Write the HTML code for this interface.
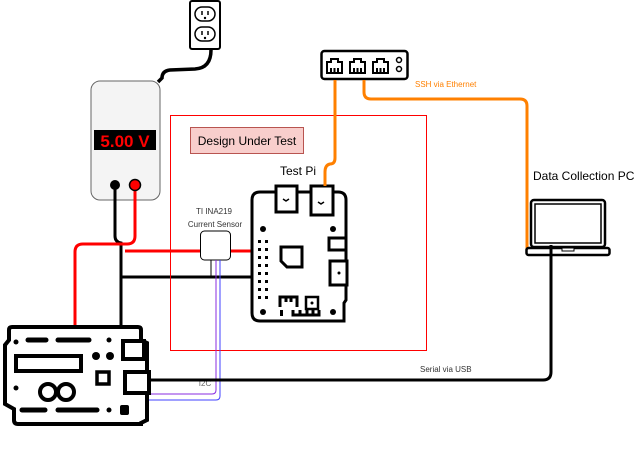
<!DOCTYPE html>
<html><head><meta charset="utf-8"><style>
html,body{margin:0;padding:0;background:#fff;}
svg{display:block;font-family:"Liberation Sans",Arial,sans-serif;}
</style></head><body>
<svg width="641" height="451" viewBox="0 0 641 451" xmlns="http://www.w3.org/2000/svg">
<!-- outlet -->
<rect x="190" y="1" width="30" height="48" rx="2" fill="#fff" stroke="#000" stroke-width="2"/>
<rect x="195" y="7" width="20" height="14" rx="7" fill="#fff" stroke="#000" stroke-width="1.5"/>
<rect x="195" y="27" width="20" height="14" rx="7" fill="#fff" stroke="#000" stroke-width="1.5"/>
<line x1="202" y1="11" x2="202" y2="15" stroke="#000" stroke-width="1.5"/><line x1="208" y1="11" x2="208" y2="15" stroke="#000" stroke-width="1.5"/><circle cx="205" cy="18" r="1.2"/>
<line x1="202" y1="31" x2="202" y2="35" stroke="#000" stroke-width="1.5"/><line x1="208" y1="31" x2="208" y2="35" stroke="#000" stroke-width="1.5"/><circle cx="205" cy="38" r="1.2"/>
<path d="M211 50 Q211 68 195 69 L170 70 Q162 71 162 78 L158 82" fill="none" stroke="#000" stroke-width="3.5"/>
<!-- power supply -->
<rect x="91" y="81" width="69" height="119" rx="9" fill="#f4f4f4" stroke="#666" stroke-width="1"/>
<rect x="94" y="130" width="62" height="20" fill="#000"/>
<text x="125" y="147" font-size="17" font-weight="bold" fill="#ff0000" text-anchor="middle">5.00 V</text>
<!-- wires from PSU -->
<path d="M115 186 L115 236 Q115 242 121 243 L121 325" fill="none" stroke="#000" stroke-width="3"/>
<path d="M135 186 L135 236 Q135 244 127 244 L83 244 Q75 244 75 252 L75 325" fill="none" stroke="#ff0000" stroke-width="3"/>
<circle cx="115" cy="185" r="5" fill="#000"/>
<circle cx="135" cy="185" r="5.5" fill="#ff0000" stroke="#000" stroke-width="1.5"/>
<line x1="125" y1="251" x2="262" y2="251" stroke="#ff0000" stroke-width="3"/>
<line x1="121" y1="277" x2="253" y2="277" stroke="#000" stroke-width="3"/>
<!-- DUT box -->
<rect x="170.5" y="115.5" width="256" height="235" fill="none" stroke="#ff0000" stroke-width="1"/>
<rect x="190.5" y="127.5" width="113" height="26" fill="#f8cecc" stroke="#b85450" stroke-width="1"/>
<text x="247" y="145" font-size="12" text-anchor="middle" fill="#000">Design Under Test</text>
<text x="298" y="175" font-size="12" text-anchor="middle" fill="#000">Test Pi</text>
<!-- sensor -->
<text x="214" y="214" font-size="8" text-anchor="middle" fill="#333">TI INA219</text>
<text x="215" y="227" font-size="8" text-anchor="middle" fill="#333">Current Sensor</text>
<rect x="200.5" y="231" width="30" height="29" rx="4" fill="#fff" stroke="#000" stroke-width="1"/>
<line x1="211" y1="260" x2="211" y2="277" stroke="#000" stroke-width="1"/>
<!-- I2C -->
<path d="M216 260 L216 390 Q216 394 212 394 L66 394 Q61 394 61 399 L61 410" fill="none" stroke="#8a2be2" stroke-width="1"/>
<path d="M220 260 L220 396 Q220 400 216 400 L70 400 Q66 400 66 405 L66 410" fill="none" stroke="#4040ff" stroke-width="1"/>
<text x="205" y="386" font-size="8" text-anchor="middle" fill="#666">I2C</text>
<!-- Pi board -->
<path d="M262 192 L338 192 Q346 192 346 200 L346 300 L344 303 L344 321 L260 321 Q252 321 252 313 L252 200 Q252 192 260 192 Z" fill="#fff" stroke="#000" stroke-width="3"/>
<rect x="276" y="186" width="21" height="26" fill="#fff" stroke="#000" stroke-width="3"/>
<rect x="311" y="186" width="22" height="29" fill="#fff" stroke="#000" stroke-width="3"/>
<path d="M283 199 l3 2 l3 -2 M318 202 l3 2 l3 -2" stroke="#000" stroke-width="1.5" fill="none"/>
<circle cx="263" cy="229" r="3"/><circle cx="333" cy="229" r="3"/><circle cx="263" cy="312" r="3"/><circle cx="333" cy="312" r="3"/>
<g fill="#000">
<rect x="258" y="240" width="3" height="3"/><rect x="265" y="240" width="3" height="3"/>
<rect x="258" y="248" width="3" height="3"/><rect x="265" y="248" width="3" height="3"/>
<rect x="258" y="256" width="3" height="3"/><rect x="265" y="256" width="3" height="3"/>
<rect x="258" y="264" width="3" height="3"/><rect x="265" y="264" width="3" height="3"/>
<rect x="258" y="272" width="3" height="3"/><rect x="265" y="272" width="3" height="3"/>
<rect x="258" y="280" width="3" height="3"/><rect x="265" y="280" width="3" height="3"/>
<rect x="258" y="288" width="3" height="3"/><rect x="265" y="288" width="3" height="3"/>
<rect x="258" y="296" width="3" height="3"/><rect x="265" y="296" width="3" height="3"/>
</g>
<path d="M281 247 L302 247 L302 267 L287 267 L281 261 Z" fill="#fff" stroke="#000" stroke-width="3"/>
<rect x="306" y="297" width="12" height="12" fill="#fff" stroke="#000" stroke-width="2.5"/><circle cx="312" cy="303" r="1.5"/>
<path d="M280 307 L280 297 L297 297 L297 307 M286 297 v5 M291 297 v5" fill="none" stroke="#000" stroke-width="3"/>
<rect x="280" y="310" width="3" height="6"/>
<path d="M293 310 L293 315 L319 315 L319 310 M300 310 v5 M307 310 v5 M313 310 v5" fill="none" stroke="#000" stroke-width="3"/>
<rect x="329" y="238" width="17" height="12" fill="#fff" stroke="#000" stroke-width="3"/>
<rect x="330" y="261" width="17" height="24" fill="#fff" stroke="#000" stroke-width="3"/><circle cx="339" cy="273" r="1.5"/>
<!-- switch -->
<rect x="321.5" y="51" width="86" height="28" rx="3" fill="#fff" stroke="#000" stroke-width="2.5"/>
<g fill="none" stroke="#000" stroke-width="2">
<path d="M327 73 L327 62 L331 62 L331 59 L338 59 L338 62 L342 62 L342 73 Z M331 73 v-5 M334.5 73 v-5 M338 73 v-5"/>
<path d="M350 73 L350 62 L354 62 L354 59 L361 59 L361 62 L365 62 L365 73 Z M354 73 v-5 M357.5 73 v-5 M361 73 v-5"/>
<path d="M373 73 L373 62 L377 62 L377 59 L384 59 L384 62 L388 62 L388 73 Z M377 73 v-5 M380.5 73 v-5 M384 73 v-5"/>
</g>
<circle cx="399" cy="60" r="2.5" fill="none" stroke="#000" stroke-width="1.5"/><circle cx="399" cy="69" r="2.5" fill="none" stroke="#000" stroke-width="1.5"/>
<!-- orange -->
<path d="M335 80 L335 158 Q335 164 330 164 Q325 165 325 172 L325 186" fill="none" stroke="#ff8000" stroke-width="3"/>
<path d="M364 80 L364 92 Q364 99 371 99 L520 99 Q527 99 527 106 L527 249" fill="none" stroke="#ff8000" stroke-width="3"/>
<text x="415" y="87" font-size="8" fill="#ff8000">SSH  via Ethernet</text>
<!-- laptop -->
<text x="533" y="180" font-size="12" fill="#000">Data Collection PC</text>
<rect x="531" y="200" width="74" height="47" rx="3" fill="#fff" stroke="#000" stroke-width="2.5"/>
<rect x="535" y="204" width="66" height="39" fill="#fff" stroke="#000" stroke-width="1.5"/>
<rect x="526.5" y="248" width="83" height="7" rx="2" fill="#fff" stroke="#000" stroke-width="2.5"/>
<rect x="562" y="248" width="12" height="3" fill="#fff" stroke="#000" stroke-width="1"/>
<path d="M551 245 L551 372 Q551 380 543 380 L150 380" fill="none" stroke="#000" stroke-width="3"/>
<text x="420" y="372" font-size="8" fill="#333">Serial via USB</text>
<!-- arduino -->
<path d="M12 327 L138 327 Q141 327 141 330 L141 340 L147 343 L147 420 L141 423 L141 424 L18 424 Q14 424 14 420 L14 409 L5 404 L5 345 L9 340 L9 330 Q9 327 12 327 Z" fill="#fff" stroke="#000" stroke-width="4"/>
<g stroke="#000" stroke-linecap="round" fill="none">
<line x1="28" y1="340" x2="46" y2="340" stroke-width="5"/><line x1="58" y1="340" x2="89" y2="340" stroke-width="5"/>
<line x1="22" y1="410" x2="45" y2="410" stroke-width="5"/><line x1="58" y1="410" x2="97" y2="410" stroke-width="5"/>
</g>
<circle cx="16" cy="342" r="2.5"/><circle cx="16" cy="388" r="2.5"/><circle cx="109" cy="340" r="2.5"/><circle cx="109" cy="410" r="2.5"/>
<circle cx="96" cy="356" r="4"/><circle cx="110" cy="356" r="4"/>
<rect x="16" y="356" width="65" height="15" fill="#fff" stroke="#000" stroke-width="4"/>
<rect x="97" y="372" width="12" height="12" fill="#fff" stroke="#000" stroke-width="3.5"/>
<rect x="123" y="341" width="21" height="18" fill="#fff" stroke="#000" stroke-width="4"/>
<rect x="125" y="372" width="24" height="21" fill="#fff" stroke="#000" stroke-width="4"/>
<rect x="120" y="405" width="9" height="10" rx="2" fill="#000"/>
<circle cx="48" cy="392" r="8" fill="none" stroke="#000" stroke-width="4"/><circle cx="66" cy="392" r="8" fill="none" stroke="#000" stroke-width="4"/>
</svg>
</body></html>
